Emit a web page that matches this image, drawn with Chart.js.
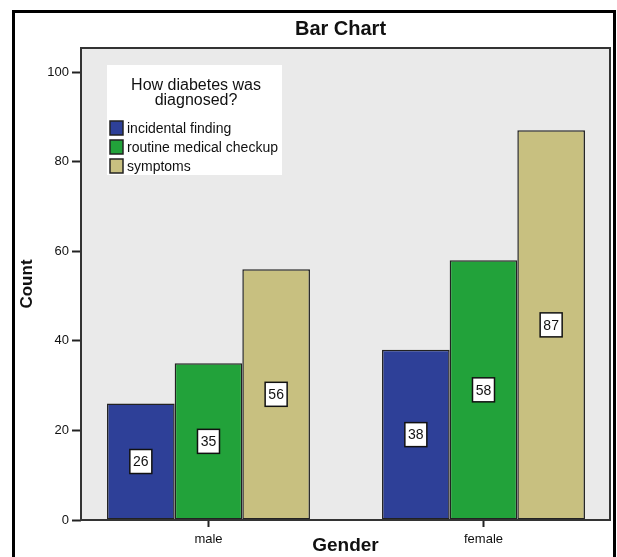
<!DOCTYPE html>
<html lang="en">

<head>
    <meta charset="UTF-8">
    <title>Bar Chart</title>
    <script src="https://cdn.jsdelivr.net/npm/chart.js"></script>
</head>
<style>
    body {
        margin: 0;
        background-color: #FFFFFF;
    }

    canvas {
        display: block;
    }
</style>

<body>
    <canvas id="myChartCanvas" width="617" height="557"></canvas>
</body>

</html>

<script>
    // dados
    const genders = ['male', 'female'];
    const seriesNames = ['incidental finding', 'routine medical checkup', 'symptoms'];
    const incidentalFinding = [26, 38];
    const routineCheckup = [35, 58];
    const symptoms = [56, 87];
    const yTicks = [0, 20, 40, 60, 80, 100];

    const colors = ['#2e4098', '#22a23a', '#c8c080'];
    const fontFamily = '"Liberation Sans", Arial, sans-serif';

    // fundo, moldura externa e fundo cinza da area do grafico
    const backgroundPlugin = {
        id: 'background',
        beforeDraw(chart) {
            const ctx = chart.ctx;
            const a = chart.chartArea;
            ctx.save();
            ctx.fillStyle = '#FFFFFF';
            ctx.fillRect(0, 0, chart.width, chart.height);
            ctx.strokeStyle = '#000000';
            ctx.lineWidth = 3;
            ctx.strokeRect(13.5, 11.5, 601, 560);
            ctx.fillStyle = '#eaeaea';
            ctx.fillRect(a.left, a.top, a.right - a.left, a.bottom - a.top);
            ctx.restore();
        }
    };

    // moldura do grafico, rotulos dos valores, legenda e titulo
    const overlayPlugin = {
        id: 'overlay',
        afterDatasetsDraw(chart) {
            const ctx = chart.ctx;
            const a = chart.chartArea;
            ctx.save();

            ctx.strokeStyle = '#333333';
            ctx.lineWidth = 2;
            ctx.strokeRect(a.left, a.top, a.right - a.left, a.bottom - a.top);

            // caixinhas com os valores no meio das barras
            ctx.font = '14px ' + fontFamily;
            ctx.textAlign = 'center';
            ctx.textBaseline = 'middle';
            chart.data.datasets.forEach(function (ds, i) {
                chart.getDatasetMeta(i).data.forEach(function (bar, j) {
                    const cx = bar.x;
                    const cy = (bar.y + bar.base) / 2;
                    ctx.fillStyle = '#FFFFFF';
                    ctx.fillRect(cx - 11, cy - 12, 22, 24);
                    ctx.strokeStyle = '#111111';
                    ctx.lineWidth = 1.5;
                    ctx.strokeRect(cx - 11, cy - 12, 22, 24);
                    ctx.fillStyle = '#111111';
                    ctx.fillText(String(ds.data[j]), cx, cy + 1);
                });
            });

            // legenda dentro da area
            const lx = a.left + 26;
            const ly = a.top + 17;
            ctx.fillStyle = '#FFFFFF';
            ctx.fillRect(lx, ly, 175, 110);
            ctx.fillStyle = '#111111';
            ctx.font = '16px ' + fontFamily;
            ctx.fillText('How diabetes was', lx + 89, ly + 21);
            ctx.fillText('diagnosed?', lx + 89, ly + 36);
            ctx.font = '14px ' + fontFamily;
            ctx.textAlign = 'left';
            chart.data.datasets.forEach(function (ds, i) {
                const y = ly + 63 + i * 19;
                ctx.fillStyle = ds.backgroundColor;
                ctx.fillRect(lx + 3, y - 7, 13, 14);
                ctx.strokeStyle = '#222222';
                ctx.lineWidth = 1.5;
                ctx.strokeRect(lx + 3, y - 7, 13, 14);
                ctx.fillStyle = '#111111';
                ctx.fillText(ds.label, lx + 20, y + 1);
            });

            // titulo
            ctx.font = 'bold 20px ' + fontFamily;
            ctx.textAlign = 'center';
            ctx.fillText('Bar Chart', (a.left + a.right) / 2 - 5, 29);

            ctx.restore();
        }
    };

    let datasets = [incidentalFinding, routineCheckup, symptoms].map(function (values, i) {
        return {
            label: seriesNames[i],
            data: values,
            backgroundColor: colors[i],
            borderColor: '#222222',
            borderWidth: 1.5,
            borderSkipped: false,
            categoryPercentage: 0.738,
            barPercentage: 1.0
        };
    });

    const config = {
        type: 'bar',
        data: {
            labels: genders,
            datasets: datasets
        },
        options: {
            responsive: false,
            animation: false,
            devicePixelRatio: 1,
            layout: {
                padding: { left: 0, top: 48, right: 7, bottom: 0 }
            },
            plugins: {
                legend: { display: false },
                tooltip: { enabled: false }
            },
            scales: {
                x: {
                    border: { display: false },
                    grid: {
                        drawOnChartArea: false,
                        offset: false,
                        tickLength: 7,
                        tickColor: '#222222',
                        tickWidth: 2
                    },
                    ticks: {
                        color: '#111111',
                        padding: 5,
                        font: { family: fontFamily, size: 13 }
                    },
                    // SPSS deixa mais espaco entre os grupos do que nas bordas
                    afterBuildTicks(scale) {
                        scale._startValue = -0.4636;
                        scale._valueRange = 1.9236;
                    },
                    title: {
                        display: true,
                        text: 'Gender',
                        color: '#111111',
                        padding: { top: 0, bottom: 0 },
                        font: { family: fontFamily, size: 19, weight: 'bold' }
                    },
                    afterFit(scale) {
                        scale.height = 37;
                    }
                },
                y: {
                    min: 0,
                    max: 105.36,
                    border: { display: false },
                    grid: {
                        drawOnChartArea: false,
                        tickLength: 9,
                        tickColor: '#222222',
                        tickWidth: 2
                    },
                    ticks: {
                        stepSize: 20,
                        color: '#111111',
                        padding: 3,
                        font: { family: fontFamily, size: 13 }
                    },
                    afterBuildTicks(scale) {
                        scale.ticks = yTicks.map(function (v) { return { value: v }; });
                    },
                    title: {
                        display: true,
                        text: 'Count',
                        color: '#111111',
                        padding: { top: 17, bottom: 0 },
                        font: { family: fontFamily, size: 17, weight: 'bold' }
                    },
                    afterFit(scale) {
                        scale.width = 81;
                    }
                }
            }
        },
        plugins: [backgroundPlugin, overlayPlugin]
    };

    let myChart = new Chart(
        document.getElementById('myChartCanvas'),
        config
    );
</script>
